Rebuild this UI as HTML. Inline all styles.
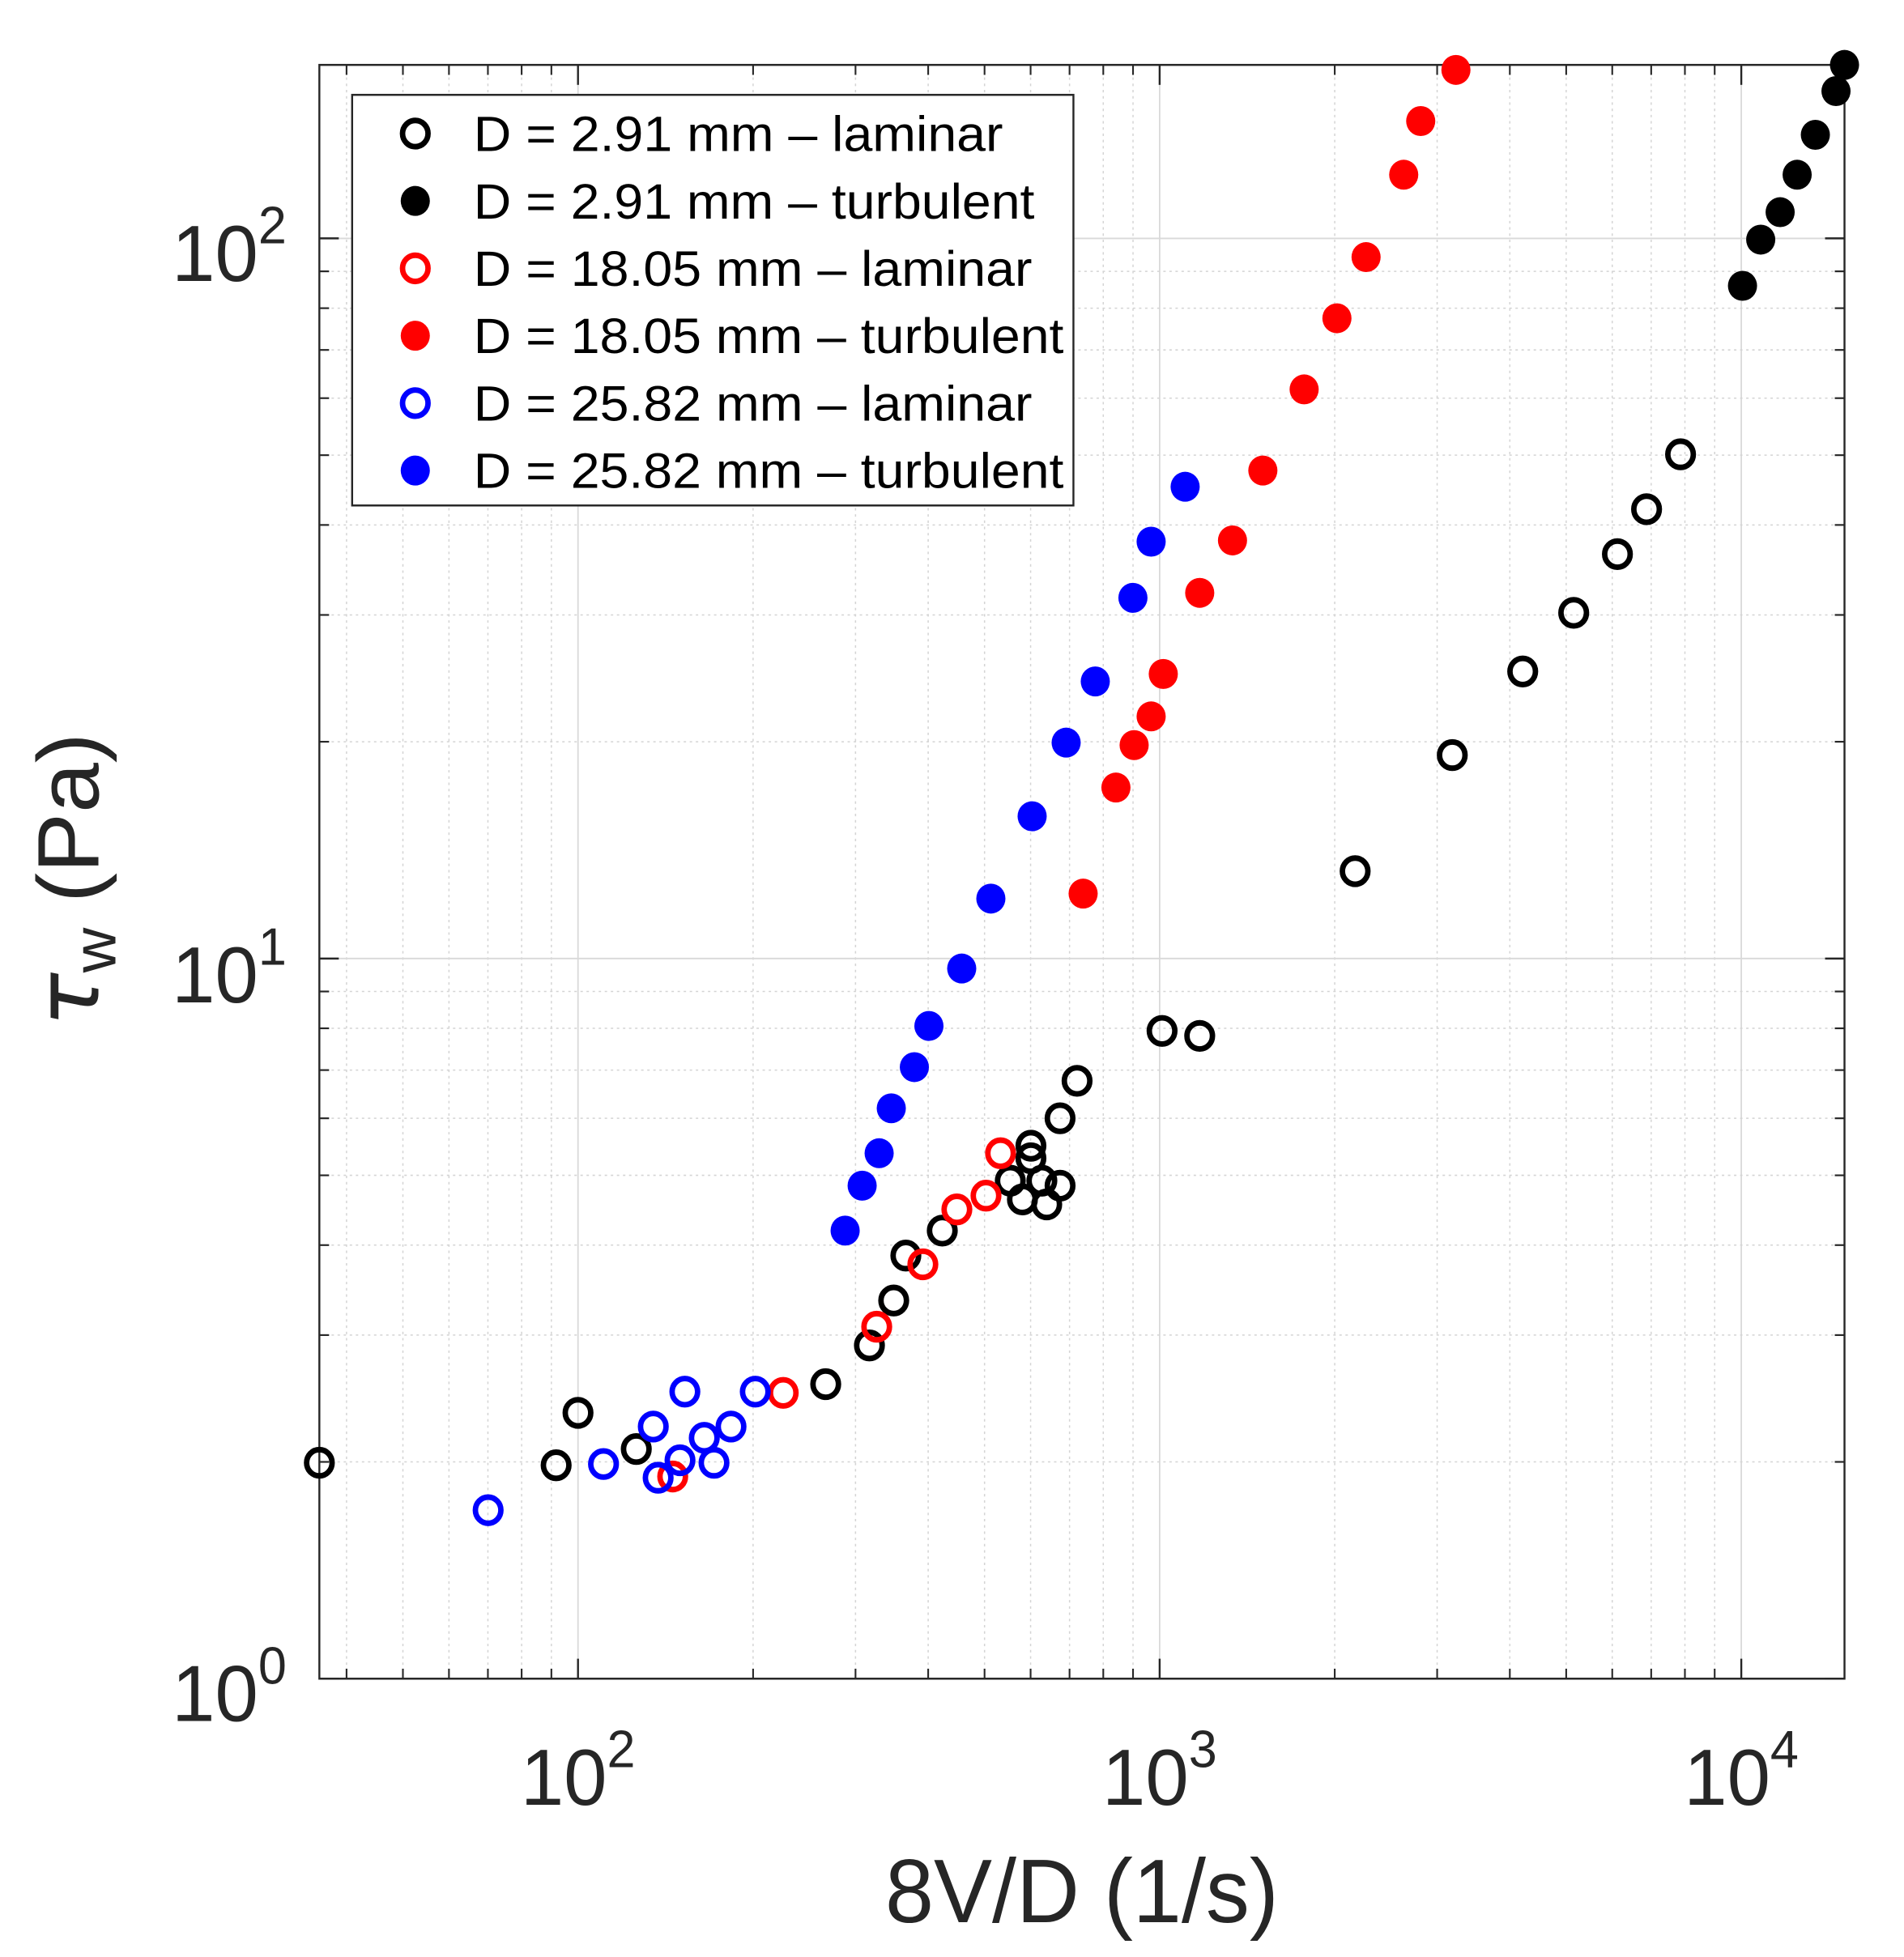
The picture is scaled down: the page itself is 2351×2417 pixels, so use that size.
<!DOCTYPE html>
<html><head><meta charset="utf-8">
<style>html,body{margin:0;padding:0;background:#fff;}svg{display:block;}</style>
</head><body>
<svg id="s" width="2351" height="2417" viewBox="0 0 1568 1568" preserveAspectRatio="none" xmlns="http://www.w3.org/2000/svg" font-family="Liberation Sans, Arial, sans-serif">
<rect width="1568" height="1568" fill="#fff"/>
<g id="grid"></g>
<g id="ticks"></g>
<rect x="263" y="52" width="1256" height="1293" fill="none" stroke="#262626" stroke-width="1.6"/>
<g id="data"></g>
<!-- legend -->
<rect x="290" y="76" width="594" height="329" fill="#fff" stroke="#262626" stroke-width="1.6"/>
<g font-size="40" fill="#000">
<circle cx="342" cy="107" r="10.5" fill="none" stroke="#000" stroke-width="4.5"/>
<text x="390" y="121" textLength="436" lengthAdjust="spacingAndGlyphs">D = 2.91 mm  –  laminar</text>
<circle cx="342" cy="161" r="12" fill="#000"/>
<text x="390" y="175" textLength="462" lengthAdjust="spacingAndGlyphs">D = 2.91 mm  –  turbulent</text>
<circle cx="342" cy="215" r="10.5" fill="none" stroke="#f00" stroke-width="4.5"/>
<text x="390" y="229" textLength="460" lengthAdjust="spacingAndGlyphs">D = 18.05 mm  –  laminar</text>
<circle cx="342" cy="269" r="12" fill="#f00"/>
<text x="390" y="283" textLength="486" lengthAdjust="spacingAndGlyphs">D = 18.05 mm  –  turbulent</text>
<circle cx="342" cy="323" r="10.5" fill="none" stroke="#00f" stroke-width="4.5"/>
<text x="390" y="337" textLength="460" lengthAdjust="spacingAndGlyphs">D = 25.82 mm  –  laminar</text>
<circle cx="342" cy="377" r="12" fill="#00f"/>
<text x="390" y="391" textLength="486" lengthAdjust="spacingAndGlyphs">D = 25.82 mm  –  turbulent</text>
</g>
<!-- tick labels -->
<g font-size="64" fill="#262626">
<text x="955" y="1446" text-anchor="middle">10<tspan font-size="42" dy="-30">3</tspan></text>
<text x="476" y="1446" text-anchor="middle">10<tspan font-size="42" dy="-30">2</tspan></text>
<text x="1434" y="1446" text-anchor="middle">10<tspan font-size="42" dy="-30">4</tspan></text>
<text x="236" y="225" text-anchor="end">10<tspan font-size="42" dy="-30">2</tspan></text>
<text x="236" y="803" text-anchor="end">10<tspan font-size="42" dy="-30">1</tspan></text>
<text x="236" y="1379" text-anchor="end">10<tspan font-size="42" dy="-30">0</tspan></text>
</g>
<text x="891" y="1540" text-anchor="middle" font-size="72" fill="#262626">8V/D (1/s)</text>
<text transform="translate(81,705) rotate(-90)" text-anchor="middle" font-size="72" fill="#262626"><tspan font-family="DejaVu Sans, sans-serif" font-style="italic">τ</tspan><tspan font-size="50" dy="14">w</tspan><tspan dy="-14"> (Pa)</tspan></text>
<script>
var NS="http://www.w3.org/2000/svg";
function X(v){return 955+479*(Math.log10(v)-3);}
function Y(v){return 1345-577*Math.log10(v);}
var grid=document.getElementById('grid'),ticks=document.getElementById('ticks');
function line(p,x1,y1,x2,y2,st,w,da){var l=document.createElementNS(NS,'line');l.setAttribute('x1',x1);l.setAttribute('y1',y1);l.setAttribute('x2',x2);l.setAttribute('y2',y2);l.setAttribute('stroke',st);l.setAttribute('stroke-width',w);if(da)l.setAttribute('stroke-dasharray',da);p.appendChild(l);}
for(var d=1;d<=4;d++){for(var m=1;m<=9;m++){var v=m*Math.pow(10,d);var x=X(v);if(x<263||x>1519)continue;
 if(m==1){line(grid,x,52,x,1345,'#d9d9d9',1.2);line(ticks,x,1345,x,1329,'#262626',1.6);line(ticks,x,52,x,68,'#262626',1.6);}
 else{line(grid,x,52,x,1345,'#d4d4d4',1,'2,3');line(ticks,x,1345,x,1337,'#262626',1.4);line(ticks,x,52,x,60,'#262626',1.4);}}}
for(var d=0;d<=2;d++){for(var m=1;m<=9;m++){var v=m*Math.pow(10,d);var y=Y(v);if(y<52||y>1345)continue;
 if(m==1){line(grid,263,y,1519,y,'#d9d9d9',1.2);line(ticks,263,y,279,y,'#262626',1.6);line(ticks,1519,y,1503,y,'#262626',1.6);}
 else{line(grid,263,y,1519,y,'#d4d4d4',1,'2,3');line(ticks,263,y,271,y,'#262626',1.4);line(ticks,1519,y,1511,y,'#262626',1.4);}}}
var data=document.getElementById('data');
function pts(arr,col,fill){arr.forEach(function(p){var c=document.createElementNS(NS,'circle');c.setAttribute('cx',p[0]);c.setAttribute('cy',p[1]);
 if(fill){c.setAttribute('r',12);c.setAttribute('fill',col);}else{c.setAttribute('r',10.5);c.setAttribute('fill','none');c.setAttribute('stroke',col);c.setAttribute('stroke-width',4.5);}data.appendChild(c);});}
pts([[263,1172],[458,1174],[476,1132],[524,1161],[680,1109],[716,1078],[736,1042],[746,1006],[776,986],[832,946],[842,961],[849,918],[849,928],[858,946],[862,965],[873,950],[873,896],[887,866],[957,826],[988,830],[1116,698],[1196,605],[1254,538],[1296,491],[1332,444],[1356,408],[1384,364]],'#000',false);
pts([[1435,229],[1450,192],[1466,170],[1480,140],[1495,108],[1512,73],[1519,52]],'#000',true);
pts([[554,1183],[645,1116],[722,1063],[760,1013],[788,969],[812,958],[824,924]],'#f00',false);
pts([[892,716],[919,631],[934,597],[948,574],[958,540],[988,475],[1015,433],[1040,377],[1074,312],[1101,255],[1125,206],[1156,140],[1170,97],[1199,56]],'#f00',true);
pts([[402,1210],[497,1173],[538,1143],[542,1184],[560,1170],[564,1115],[580,1152],[588,1172],[602,1143],[622,1115]],'#00f',false);
pts([[696,986],[710,950],[724,924],[734,888],[753,855],[765,822],[792,776],[816,720],[850,654],[878,595],[902,546],[933,479],[948,434],[976,390]],'#00f',true);
</script>
</svg>
</body></html>
